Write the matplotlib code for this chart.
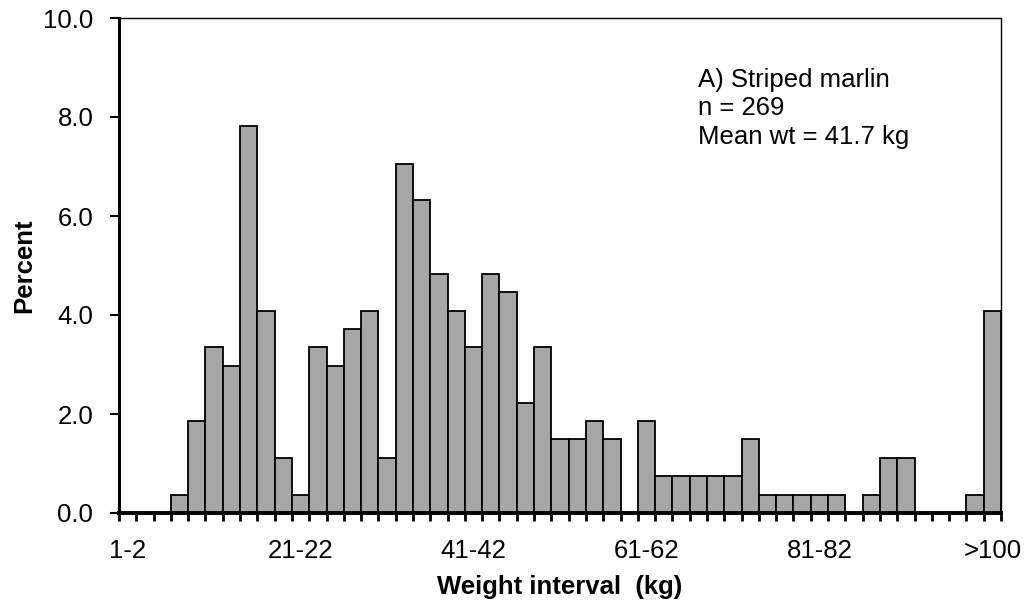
import matplotlib
matplotlib.use('Agg')
import matplotlib.pyplot as plt
import numpy as np

# 2-kg weight classes, 1-2 ... 99-100, then >100
classes = ['%d-%d' % (k, k + 1) for k in range(1, 100, 2)] + ['>100']
# percent of fish in each class (n = 269)
percent = [0.00, 0.00, 0.00, 0.37, 1.86, 3.35, 2.97, 7.81, 4.09, 1.12,
           0.37, 3.35, 2.97, 3.72, 4.09, 1.12, 7.06, 6.32, 4.83, 4.09,
           3.35, 4.83, 4.46, 2.23, 3.35, 1.49, 1.49, 1.86, 1.49, 0.00,
           1.86, 0.74, 0.74, 0.74, 0.74, 0.74, 1.49, 0.37, 0.37, 0.37,
           0.37, 0.37, 0.00, 0.37, 1.12, 1.12, 0.00, 0.00, 0.00, 0.37,
           4.09]
labelled = ['1-2', '21-22', '41-42', '61-62', '81-82', '>100']
yticks = [0, 2, 4, 6, 8, 10]

plt.rcParams['font.family'] = ['Liberation Sans', 'DejaVu Sans']
FS = 18.5

fig = plt.figure(figsize=(10.29, 6.05), dpi=100)
ax1 = fig.add_axes([119/1029, 1 - 513/605, (1001 - 119)/1029, (513 - 18)/605])

x = np.arange(len(classes))
ax1.bar(x, percent, 1.0, color='#a6a6a6', edgecolor='black', linewidth=1.3, zorder=2)

ax1.set_xlim(-0.5, len(classes) - 0.5)
ax1.set_ylim(0, 10)

# boundaries get the tick marks, selected class centres get the labels
ax1.set_xticks(np.arange(-0.5, len(classes), 1.0), minor=True)
ax1.set_xticks([classes.index(c) for c in labelled])
ax1.set_xticklabels(labelled)
ax1.tick_params(axis='x', which='major', length=0, pad=19, labelsize=FS)
ax1.tick_params(axis='x', which='minor', length=6, width=2, direction='out')

ax1.set_yticks(yticks)
ax1.set_yticklabels(['%.1f' % v for v in yticks])
ax1.tick_params(axis='y', length=6.5, width=1.5, direction='out', pad=12, labelsize=FS)

ax1.spines['left'].set_linewidth(2.2)
ax1.spines['bottom'].set_linewidth(2.8)
ax1.spines['top'].set_linewidth(1.0)
ax1.spines['right'].set_linewidth(1.0)
ax1.spines['bottom'].set_zorder(3)

ax1.set_xlabel('Weight interval  (kg)', fontsize=FS, fontweight='bold', labelpad=4)
ax1.set_ylabel('Percent', fontsize=FS, fontweight='bold', labelpad=5)
ax1.xaxis.set_label_coords(0.50, -0.125)

ax1.text(0.656, 0.90, 'A) Striped marlin\nn = 269\nMean wt = 41.7 kg',
         transform=ax1.transAxes, fontsize=FS, ha='left', va='top',
         linespacing=1.24)

plt.savefig('out.png', dpi=100)
